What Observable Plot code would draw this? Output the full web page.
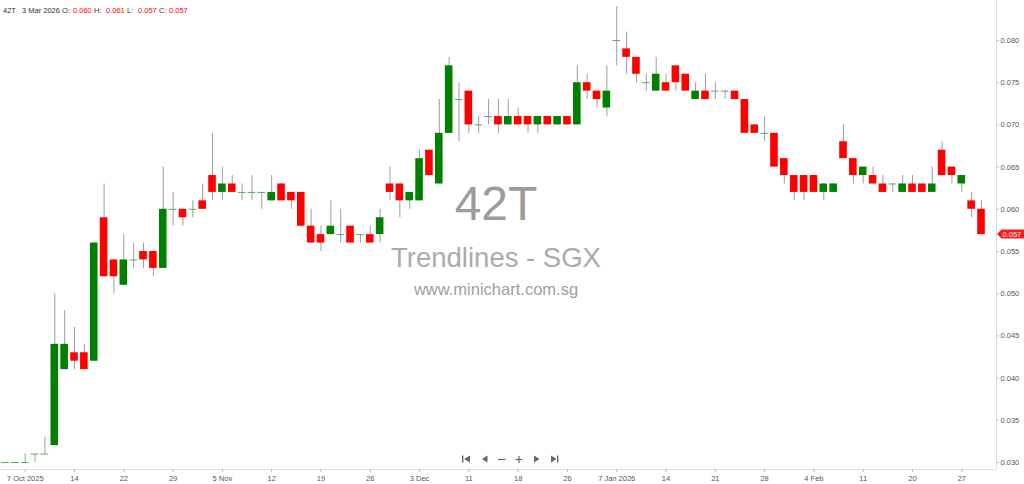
<!DOCTYPE html>
<html><head><meta charset="utf-8">
<script src="https://cdn.jsdelivr.net/npm/d3@7"></script>
<script src="https://cdn.jsdelivr.net/npm/@observablehq/plot@0.6"></script>
<style>
html,body{margin:0;padding:0;background:#fff;}
#wrap{position:relative;width:1024px;height:484px;overflow:hidden;}
#wrap svg{position:absolute;left:0;top:0;}
</style></head><body><div id="wrap"></div>
<script>
const ticker = "42T";
const lastDate = "3 Mar 2026";
const wmTitle = "42T";
const wmSub = "Trendlines - SGX";
const wmUrl = "www.minichart.com.sg";

const opens  = [0.030,0.030,0.030,0.031,0.031,0.032,0.041,0.043,0.043,0.042,
                0.059,0.054,0.051,0.054,0.055,0.055,0.053,0.060,0.060,0.060,
                0.061,0.064,0.062,0.063,0.062,0.062,0.062,0.061,0.063,0.062,
                0.062,0.058,0.057,0.057,0.057,0.058,0.057,0.057,0.057,0.063,
                0.063,0.061,0.061,0.067,0.063,0.069,0.073,0.074,0.070,0.071,
                0.071,0.070,0.071,0.071,0.070,0.071,0.070,0.071,0.070,0.075,
                0.074,0.072,0.080,0.079,0.078,0.075,0.074,0.075,0.077,0.076,
                0.073,0.074,0.074,0.074,0.074,0.073,0.070,0.069,0.069,0.066,
                0.064,0.064,0.064,0.062,0.062,0.068,0.066,0.064,0.064,0.063,
                0.063,0.062,0.063,0.063,0.062,0.067,0.065,0.063,0.061,0.060];
const highs  = [0.030,0.030,0.031,0.031,0.033,0.050,0.048,0.046,0.044,0.056,
                0.063,0.054,0.057,0.056,0.056,0.055,0.065,0.062,0.060,0.061,
                0.063,0.069,0.065,0.064,0.063,0.064,0.062,0.064,0.063,0.062,
                0.062,0.060,0.058,0.061,0.060,0.058,0.057,0.058,0.060,0.065,
                0.063,0.062,0.067,0.067,0.073,0.078,0.075,0.074,0.071,0.073,
                0.073,0.073,0.072,0.071,0.071,0.071,0.071,0.071,0.077,0.076,
                0.074,0.077,0.084,0.081,0.078,0.076,0.078,0.076,0.077,0.076,
                0.075,0.076,0.075,0.074,0.074,0.073,0.070,0.071,0.069,0.066,
                0.064,0.064,0.064,0.063,0.063,0.070,0.066,0.065,0.065,0.064,
                0.063,0.064,0.064,0.063,0.065,0.068,0.065,0.064,0.062,0.061];
const lows   = [0.030,0.030,0.030,0.030,0.031,0.032,0.041,0.041,0.041,0.042,
                0.052,0.050,0.051,0.053,0.053,0.052,0.053,0.058,0.058,0.059,
                0.060,0.061,0.061,0.062,0.061,0.061,0.060,0.061,0.061,0.060,
                0.058,0.056,0.055,0.057,0.056,0.056,0.056,0.056,0.056,0.061,
                0.059,0.060,0.061,0.064,0.063,0.069,0.068,0.069,0.069,0.070,
                0.069,0.070,0.070,0.069,0.069,0.070,0.070,0.070,0.070,0.073,
                0.072,0.071,0.077,0.076,0.075,0.074,0.074,0.074,0.074,0.074,
                0.073,0.073,0.073,0.073,0.073,0.069,0.069,0.068,0.065,0.063,
                0.061,0.061,0.062,0.061,0.062,0.066,0.063,0.063,0.063,0.062,
                0.062,0.062,0.062,0.062,0.062,0.064,0.063,0.062,0.059,0.057];
const closes = [0.030,0.030,0.030,0.031,0.031,0.044,0.044,0.042,0.041,0.056,
                0.052,0.052,0.054,0.054,0.054,0.053,0.060,0.060,0.059,0.060,
                0.060,0.062,0.063,0.062,0.062,0.062,0.062,0.062,0.061,0.061,
                0.058,0.056,0.056,0.058,0.057,0.056,0.057,0.056,0.059,0.062,
                0.061,0.062,0.066,0.064,0.069,0.077,0.073,0.070,0.070,0.071,
                0.070,0.071,0.070,0.070,0.071,0.070,0.071,0.070,0.075,0.074,
                0.073,0.074,0.080,0.078,0.076,0.075,0.076,0.074,0.075,0.074,
                0.074,0.073,0.074,0.074,0.073,0.069,0.069,0.069,0.065,0.064,
                0.062,0.062,0.062,0.063,0.063,0.066,0.064,0.065,0.063,0.062,
                0.063,0.063,0.062,0.062,0.063,0.064,0.064,0.064,0.060,0.057];

const tickBars   = [2,7,12,17,22,27,32,37,42,47,52,57,62,67,72,77,82,87,92,97];
const tickLabels = ["7 Oct 2025","14","22","29","5 Nov","12","19","26","3 Dec","11",
                    "18","26","7 Jan 2026","14","21","28","4 Feb","11","20","27"];
const yTicks = [0.030,0.035,0.040,0.045,0.050,0.055,0.060,0.065,0.070,0.075,0.080];

const bars = opens.map((o,i)=>({i, o, h:highs[i], l:lows[i], c:closes[i]}));
const ups = bars.filter(d=>d.c>d.o);
const downs = bars.filter(d=>d.c<d.o);
const dojis = bars.filter(d=>d.c===d.o);
const labelOf = new Map(tickBars.map((b,k)=>[b,tickLabels[k]]));
const hw = 0.385;
const xDomain = [-0.507, 100.52];
const yDomain = [0.029171, 0.084739];
const FONT = "'Liberation Sans', Arial, sans-serif";

const chart = Plot.plot({
  width:1024, height:484,
  marginLeft:0, marginRight:28, marginTop:0, marginBottom:15,
  x:{type:"linear", domain:xDomain, axis:null, label:null},
  y:{type:"linear", domain:yDomain, axis:null, label:null},
  style:{fontFamily:FONT, fontSize:"7.5px", color:"#555", background:"#fff"},
  marks:[
    Plot.ruleY([yDomain[0]], {stroke:"#dcdcdc"}),
    Plot.ruleX([xDomain[1]], {stroke:"#dcdcdc"}),
    Plot.axisX({ticks:tickBars, tickFormat:d=>labelOf.get(d), tickSize:3, tickPadding:3, label:null,
                stroke:"#bbb", fill:"#555", fontSize:7.5}),
    Plot.axisY({anchor:"right", ticks:yTicks, tickFormat:d=>d.toFixed(3), tickSize:2, tickPadding:2, label:null,
                stroke:"#bbb", fill:"#555", fontSize:7.5}),
    Plot.ruleX(bars, {x:"i", y1:"l", y2:"h", stroke:"#9e9e9e", strokeWidth:1}),
    Plot.rect(ups, {x1:d=>d.i-hw, x2:d=>d.i+hw, y1:"o", y2:"c", fill:"#008000"}),
    Plot.rect(downs, {x1:d=>d.i-hw, x2:d=>d.i+hw, y1:"c", y2:"o", fill:"#ff0000"}),
    Plot.ruleY(dojis, {y:"c", x1:d=>d.i-hw, x2:d=>d.i+hw, stroke:"#5aab5a", strokeWidth:1})
  ]
});
document.getElementById("wrap").appendChild(chart);

const svg = d3.select(chart);
const xs = chart.scale("x"), ys = chart.scale("y");
const cx = 496;

// watermark behind candles
const wm = svg.insert("g", ":first-child").attr("font-family", FONT).attr("text-anchor","middle");
wm.append("text").attr("x",cx).attr("y",220).attr("font-size",48).attr("fill","#9c9c9c").text(wmTitle);
wm.append("text").attr("x",cx).attr("y",267).attr("font-size",27.5).attr("fill","#ababab").text(wmSub);
wm.append("text").attr("x",cx).attr("y",294.5).attr("font-size",16.5).attr("fill","#a0a0a0").text(wmUrl);
svg.insert("rect", ":first-child").attr("width",1024).attr("height",484).attr("fill","#fff");

// header
const last = bars[bars.length-1];
const hdr = svg.append("g").attr("font-family", FONT).attr("font-size",7.5).attr("text-anchor","start");
const hdrItems = [
  [3, ticker, "#333"], [22, lastDate, "#333"],
  [62, "O:", "#333"], [73, last.o.toFixed(3), "#f00"],
  [94, "H:", "#333"], [106, last.h.toFixed(3), "#f00"],
  [127, "L:", "#333"], [138, last.l.toFixed(3), "#f00"],
  [159, "C:", "#333"], [169, last.c.toFixed(3), "#f00"]
];
hdrItems.forEach(([x,t,c])=>hdr.append("text").attr("x",x).attr("y",12.8).attr("fill",c).text(t));

// last price tag
const ty = ys.apply(last.c), tx = xs.apply(xDomain[1]);
svg.append("path")
  .attr("d", `M${tx+1},${ty} L${tx+5.5},${ty-4.5} L1024,${ty-4.5} L1024,${ty+4.5} L${tx+5.5},${ty+4.5} Z`)
  .attr("fill","#ff1a1a");
svg.append("text").attr("x",tx+6.5).attr("y",ty+2.7).attr("font-family",FONT).attr("font-size",7.5)
  .attr("text-anchor","start").attr("fill","#fff").text(last.c.toFixed(3));

// navigation icons
const nav = svg.append("g").attr("fill","#666").attr("stroke","#666");
const ny = 459;
nav.append("rect").attr("x",462).attr("y",ny-3.5).attr("width",1.4).attr("height",7).attr("stroke","none");
nav.append("path").attr("d",`M464,${ny} L470,${ny-3.5} L470,${ny+3.5} Z`).attr("stroke","none");
nav.append("path").attr("d",`M482,${ny} L487.5,${ny-3.5} L487.5,${ny+3.5} Z`).attr("stroke","none");
nav.append("line").attr("x1",498).attr("x2",505.5).attr("y1",ny+0.5).attr("y2",ny+0.5).attr("stroke-width",1.2);
nav.append("line").attr("x1",515.5).attr("x2",522.5).attr("y1",ny+0.5).attr("y2",ny+0.5).attr("stroke-width",1.2);
nav.append("line").attr("x1",519).attr("x2",519).attr("y1",ny-3).attr("y2",ny+4).attr("stroke-width",1.2);
nav.append("path").attr("d",`M539.5,${ny} L534,${ny-3.5} L534,${ny+3.5} Z`).attr("stroke","none");
nav.append("path").attr("d",`M556.5,${ny} L551,${ny-3.5} L551,${ny+3.5} Z`).attr("stroke","none");
nav.append("rect").attr("x",557).attr("y",ny-3.5).attr("width",1.4).attr("height",7).attr("stroke","none");
</script></body></html>
